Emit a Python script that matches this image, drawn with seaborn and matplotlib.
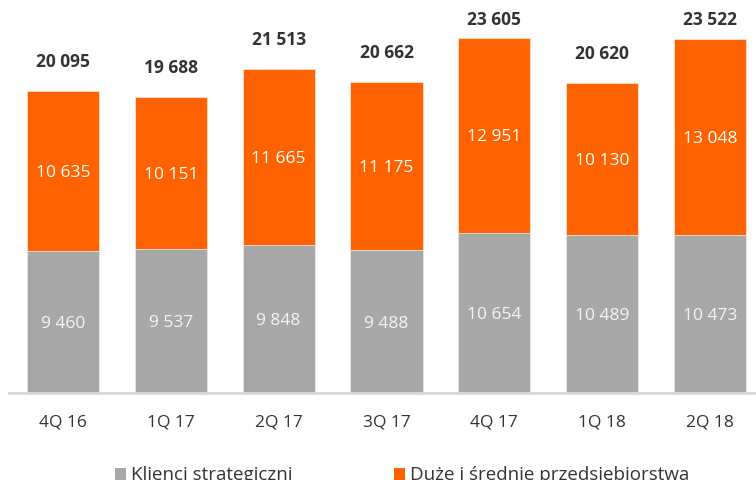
import matplotlib
matplotlib.use("Agg")
import matplotlib.pyplot as plt
import seaborn as sns
import pandas as pd
import numpy as np
from matplotlib.patches import Patch

categories = ['4Q 16', '1Q 17', '2Q 17', '3Q 17', '4Q 17', '1Q 18', '2Q 18']
klienci_strategiczni = [9460, 9537, 9848, 9488, 10654, 10489, 10473]
duze_srednie = [10635, 10151, 11665, 11175, 12951, 10130, 13048]
totals = [20095, 19688, 21513, 20662, 23605, 20620, 23522]
series_names = ['Klienci strategiczni', 'Duże i średnie przedsiębiorstwa']

ORANGE = '#FF6200'
GRAY = '#A8A8A8'

sns.set_theme(style='white')
plt.rcParams['font.family'] = ['Open Sans', 'DejaVu Sans']

df = pd.DataFrame({
    'cat': categories,
    'strat': klienci_strategiczni,
    'duze': duze_srednie,
})
df['stack'] = df['strat'] + df['duze']

fig = plt.figure(figsize=(7.56, 4.80), dpi=100)
ax = fig.add_axes([0, (480 - 393) / 480, 1, 393 / 480])

bw = 0.668
sns.barplot(data=df, x='cat', y='stack', color=ORANGE, width=bw, ax=ax,
            saturation=1, edgecolor='#FFE0CC', linewidth=0.6)
sns.barplot(data=df, x='cat', y='strat', color=GRAY, width=bw, ax=ax,
            saturation=1, edgecolor='#E6E6E6', linewidth=0.6)

px_per_unit = 0.01505
ymax = 393 / px_per_unit
ax.set_ylim(0, ymax)
ax.set_xlim(-0.584, 6.426)

def fmt(v):
    return f"{v:,}".replace(",", " ")

off = 29 / px_per_unit
clamp = (393 - 20) / px_per_unit
for i, (s, d, t) in enumerate(zip(klienci_strategiczni, duze_srednie, totals)):
    ax.text(i, s / 2, fmt(s), ha='center', va='center_baseline', color='#F4F4F4', fontsize=12.5)
    ax.text(i, s + d / 2, fmt(d), ha='center', va='center_baseline', color='white', fontsize=12.5)
    ax.text(i, min(s + d + off, clamp), fmt(t), ha='center', va='center',
            color='#333333', fontsize=12.5, fontweight='bold')

for sp in ['top', 'right', 'left']:
    ax.spines[sp].set_visible(False)
ax.spines['bottom'].set_color('#D9D9D9')
ax.spines['bottom'].set_linewidth(2)
ax.spines['bottom'].set_bounds(-0.5, 7)
ax.set_yticks([])
ax.set_xlabel('')
ax.set_ylabel('')
ax.tick_params(axis='x', length=0, pad=15.5, labelsize=12.5, labelcolor='#333333')

handles = [Patch(facecolor=GRAY, edgecolor='none'), Patch(facecolor=ORANGE, edgecolor='none')]
fig.legend(handles, series_names, loc='center', bbox_to_anchor=(0.532, 0.010),
           ncol=2, frameon=False, fontsize=13.5, handlelength=0.6, handleheight=0.6,
           handletextpad=0.25, columnspacing=5.43, labelcolor='#333333')

fig.savefig('out.png', dpi=100)
